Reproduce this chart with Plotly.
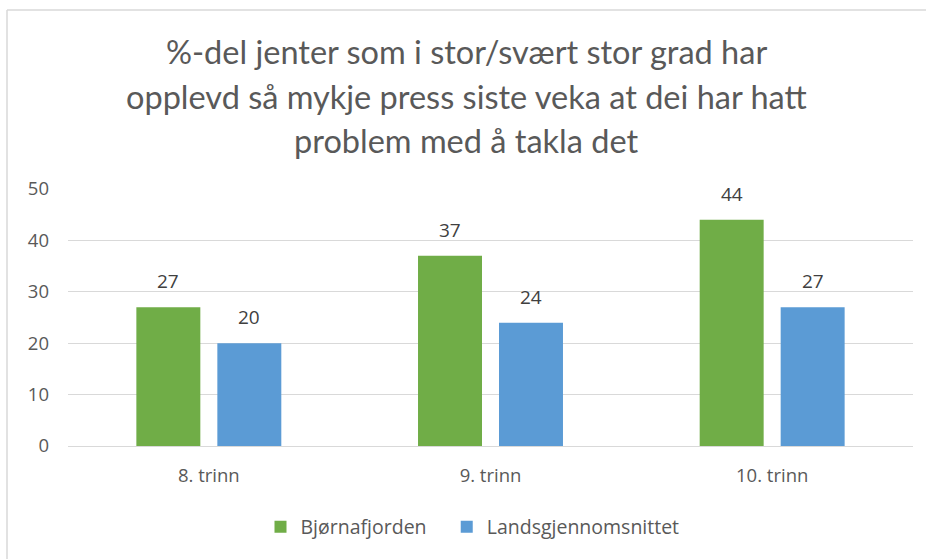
import plotly.graph_objects as go

categories = ["8. trinn", "9. trinn", "10. trinn"]
bjornafjorden = [27, 37, 44]
landssnitt = [20, 24, 27]
series_names = ["Bjørnafjorden", "Landsgjennomsnittet"]
title_lines = [
    "%-del jenter som i stor/svært stor grad har",
    "opplevd så mykje press siste veka at dei har hatt",
    "problem med å takla det",
]
y_ticks = [0, 10, 20, 30, 40, 50]

W, H = 926, 559
ML, MR, MT, MB = 68, 13, 189, 113
PW, PH = W - ML - MR, H - MT - MB
BARGAP, GROUPGAP = 0.425, 0.21


def px_x(p):
    return (p - ML) / PW


def px_y(p):
    return (H - MB - p) / PH


label_font = dict(family="Open Sans", size=19, color="#404040")
tick_font = dict(family="Open Sans", size=18.5, color="#595959")

fig = go.Figure()
colors = ["#70AD47", "#5B9BD5"]
series = [bjornafjorden, landssnitt]
for name, vals, col in zip(series_names, series, colors):
    fig.add_trace(go.Bar(
        x=categories, y=vals, name=name + "   ",
        marker=dict(color=col, line=dict(width=0)),
    ))

# value labels above each bar, offset to the bar's slot in its group
slot = PW / len(categories) * (1 - BARGAP) / 2
for k, vals in enumerate(series):
    shift = (k - 0.5) * slot
    for cat, v in zip(categories, vals):
        fig.add_annotation(
            x=cat, y=v, text=str(v), xref="x", yref="y",
            xshift=shift, yshift=26, showarrow=False,
            xanchor="center", yanchor="middle", font=label_font,
        )

# title as three centred lines
for line, ypx in zip(title_lines, [52, 97, 140]):
    fig.add_annotation(
        text=line, xref="paper", yref="paper",
        x=px_x(466), y=px_y(ypx), xanchor="center", yanchor="middle",
        showarrow=False, font=dict(family="Lato", size=32.5, color="#595959"),
    )

# chart frame (top and left edges)
frame = dict(color="#d9d9d9", width=1.5)
fig.add_shape(type="line", xref="paper", yref="paper",
              x0=px_x(7), x1=px_x(W + 5), y0=px_y(10), y1=px_y(10), line=frame)
fig.add_shape(type="line", xref="paper", yref="paper",
              x0=px_x(7), x1=px_x(7), y0=px_y(10), y1=px_y(H + 5), line=frame)

fig.update_layout(
    width=W, height=H,
    margin=dict(l=ML, r=MR, t=MT, b=MB),
    paper_bgcolor="white", plot_bgcolor="white",
    barmode="group", bargap=BARGAP, bargroupgap=GROUPGAP,
    showlegend=True,
    legend=dict(orientation="h", x=px_x(480), y=px_y(527),
                xanchor="center", yanchor="middle",
                font=dict(family="Open Sans", size=19.5, color="#595959"),
                itemwidth=30, traceorder="normal"),
    xaxis=dict(showgrid=False, showline=False, ticks="",
               tickfont=tick_font, ticklabelstandoff=16),
    yaxis=dict(range=[0, 50], tickvals=y_ticks, showgrid=True,
               gridcolor="#d9d9d9", gridwidth=1.3, zeroline=True,
               zerolinecolor="#d9d9d9", zerolinewidth=1.3,
               showline=False, ticks="", tickfont=tick_font,
               ticklabelstandoff=18),
)

fig.write_html("out.html")
